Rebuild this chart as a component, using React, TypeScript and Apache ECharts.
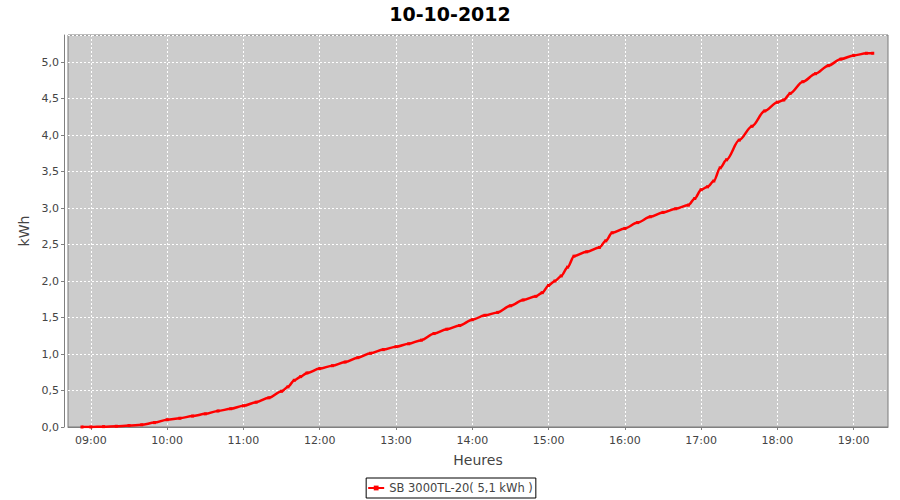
import React, { useEffect, useRef } from "react";
import * as echarts from "echarts";

const times = [
  "08:53", "09:00", "09:10", "09:20", "09:30", "09:40", "09:50", "10:00", "10:10", "10:20",
  "10:30", "10:40", "10:50", "11:00", "11:10", "11:20", "11:30", "11:35", "11:40", "11:45",
  "11:50", "12:00", "12:10", "12:20", "12:30", "12:40", "12:50", "13:00", "13:10", "13:20",
  "13:30", "13:40", "13:50", "14:00", "14:10", "14:20", "14:30", "14:40", "14:50", "14:55",
  "15:00", "15:05", "15:10", "15:15", "15:20", "15:30", "15:40", "15:45", "15:50", "16:00",
  "16:10", "16:20", "16:30", "16:40", "16:50", "16:55", "17:00", "17:05", "17:10", "17:15",
  "17:20", "17:30", "17:40", "17:50", "18:00", "18:05", "18:10", "18:20", "18:30", "18:40",
  "18:50", "19:00", "19:10", "19:15",
];
const energy = [
  0.0, 0.0, 0.005, 0.01, 0.02, 0.03, 0.06, 0.1, 0.12, 0.15,
  0.18, 0.22, 0.25, 0.29, 0.34, 0.4, 0.49, 0.55, 0.64, 0.69,
  0.74, 0.8, 0.84, 0.89, 0.95, 1.01, 1.06, 1.1, 1.14, 1.19,
  1.28, 1.34, 1.39, 1.47, 1.53, 1.57, 1.66, 1.74, 1.79, 1.84,
  1.94, 2.0, 2.07, 2.19, 2.34, 2.4, 2.46, 2.55, 2.66, 2.72,
  2.8, 2.88, 2.94, 2.99, 3.04, 3.13, 3.25, 3.29, 3.37, 3.55,
  3.66, 3.93, 4.12, 4.33, 4.45, 4.48, 4.57, 4.73, 4.84, 4.95,
  5.04, 5.09, 5.12, 5.12,
];
const hourTicks = [9, 10, 11, 12, 13, 14, 15, 16, 17, 18, 19];
const seriesName = "SB 3000TL-20( 5,1 kWh )";
const titleText = "10-10-2012";

const toHours = (t: string) => {
  const [h, m] = t.split(":").map(Number);
  return h + m / 60;
};

export default function App() {
  const ref = useRef<HTMLDivElement>(null);
  useEffect(() => {
    if (!ref.current) return;
    const chart = echarts.init(ref.current, undefined, { renderer: "svg" });
    const font = "DejaVu Sans";
    chart.setOption({
      animation: false,
      backgroundColor: "#ffffff",
      title: {
        text: titleText,
        left: "center",
        top: -1,
        textStyle: { fontFamily: font, fontSize: 19, fontWeight: "bold", color: "#000" },
      },
      grid: {
        left: 68,
        right: 12,
        top: 35,
        bottom: 73,
        show: true,
        backgroundColor: "#cccccc",
        borderColor: "#7a7a7a",
        borderWidth: 1,
      },
      legend: {
        bottom: 2,
        left: "center",
        data: [seriesName],
        borderColor: "#000",
        borderWidth: 1,
        padding: [4, 3, 4, 1],
        itemWidth: 16,
        itemHeight: 6,
        itemGap: 4,
        textStyle: { fontFamily: font, fontSize: 11.5, color: "#444" },
      },
      xAxis: {
        type: "value",
        min: toHours("08:42"),
        max: toHours("19:27"),
        offset: 4,
        name: "Heures",
        nameLocation: "middle",
        nameGap: 22,
        nameTextStyle: { fontFamily: font, fontSize: 14, color: "#444", verticalAlign: "top" },
        axisLine: { show: true, lineStyle: { color: "#808080", width: 1 } },
        axisTick: { show: true, length: 3, customValues: hourTicks, lineStyle: { color: "#808080" } },
        axisLabel: {
          customValues: hourTicks,
          margin: 4,
          fontFamily: font,
          fontSize: 11,
          color: "#444",
          formatter: (v: number) => {
            const h = Math.floor(v + 1e-6);
            const m = Math.round((v - h) * 60);
            return String(h).padStart(2, "0") + ":" + String(m).padStart(2, "0");
          },
        },
        splitLine: { show: true, lineStyle: { color: "#ffffff", type: [2, 2], width: 1 } },
      },
      yAxis: {
        type: "value",
        min: 0,
        max: 5.37,
        interval: 0.5,
        offset: 4,
        name: "kWh",
        nameLocation: "middle",
        nameGap: 32,
        nameTextStyle: { fontFamily: font, fontSize: 14, color: "#444" },
        axisLine: { show: true, lineStyle: { color: "#808080", width: 1 } },
        axisTick: { show: true, length: 3, lineStyle: { color: "#808080" } },
        axisLabel: {
          margin: 5,
          fontFamily: font,
          fontSize: 11,
          color: "#444",
          showMaxLabel: false,
          formatter: (v: number) => v.toFixed(1).replace(".", ","),
        },
        splitLine: { show: true, lineStyle: { color: "#ffffff", type: [2, 2], width: 1 } },
      },
      series: [
        {
          name: seriesName,
          type: "line",
          data: times.map((t, i) => [toHours(t), energy[i]]),
          smooth: 0.3,
          smoothMonotone: "x",
          symbol: "rect",
          symbolSize: 3,
          showSymbol: true,
          itemStyle: { color: "#ff0000" },
          lineStyle: { color: "#ff0000", width: 2.5 },
        },
      ],
    });
    return () => chart.dispose();
  }, []);
  return (
    <div
      ref={ref}
      style={{ position: "fixed", left: 0, top: 0, width: 900, height: 500 }}
    />
  );
}
